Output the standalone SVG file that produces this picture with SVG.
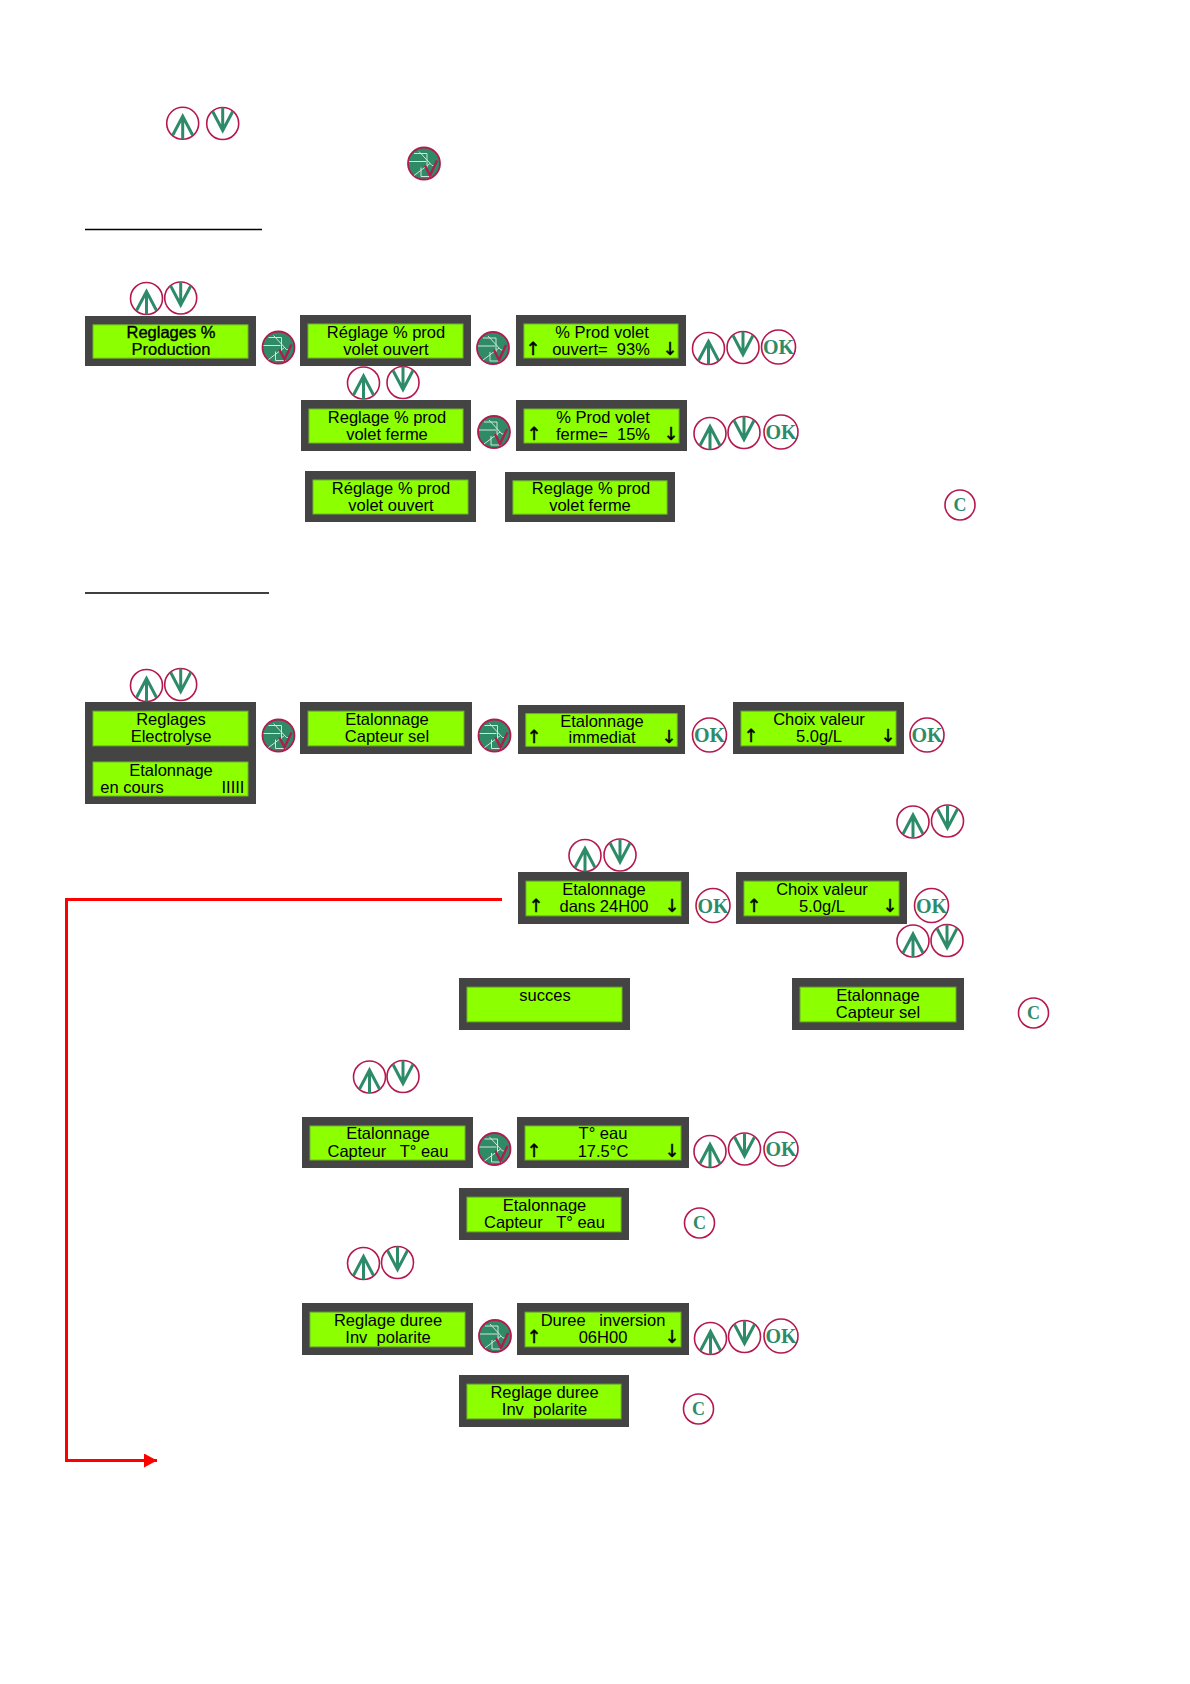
<svg xmlns="http://www.w3.org/2000/svg" width="1190" height="1684" viewBox="0 0 1190 1684">
<style>
.t{font-family:"Liberation Sans",Arial,sans-serif;font-size:16.5px;fill:#000;text-anchor:middle;white-space:pre}
.a{font-family:"DejaVu Sans",sans-serif;font-size:18px;fill:#000;stroke:#000;stroke-width:.4;text-anchor:middle}
.ok{font-family:"Liberation Serif",serif;font-weight:bold;font-size:20px;fill:#2e8b6a;text-anchor:middle}
.c{font-family:"Liberation Serif",serif;font-weight:bold;font-size:18px;fill:#2e8b6a;text-anchor:middle}
.ring{fill:#fff;stroke:#b5184f;stroke-width:1.6}
.ar{fill:none;stroke:#2e8b6a;stroke-width:3}
.rule{stroke:#000;stroke-width:1.3}
.red{fill:none;stroke:#f00;stroke-width:3}
</style>
<defs>
<symbol id="lcd" viewBox="0 0 171 51" preserveAspectRatio="none">
<rect width="171" height="51" fill="#444"/>
<rect x="8" y="9" width="155" height="34" fill="#8cff00" stroke="#6fb52c"/>
</symbol>
<g id="up"><circle r="16" class="ring"/><path class="ar" d="M0 16V-7M-10 12L0-7L10 12"/></g>
<g id="down"><circle r="16" class="ring"/><path class="ar" d="M0-16V7M-10-12L0 7L10-12"/></g>
<g id="sel"><circle r="16" fill="#2f8a66" stroke="#b01c50" stroke-width="1.8"/>
<path d="M-15-2H2M-10-10H3V4M-5-12L8 2H11M-10 12L6 0M-3 4V13H7" fill="none" stroke="#cfe6d9" stroke-width="1"/>
<path d="M1 2L6 12L13-3" fill="none" stroke="#b01c50" stroke-width="2.4"/></g>
<g id="okb"><circle r="17" class="ring"/><text class="ok" y="7">OK</text></g>
<g id="cb"><circle r="15" class="ring"/><text class="c" y="6">C</text></g>
<marker id="head" markerUnits="userSpaceOnUse" markerWidth="13" markerHeight="14" refX="13" refY="7" orient="auto"><path d="M0 0L13 7L0 14Z" fill="#f00"/></marker>
</defs>

<g id="connectors">
<path class="rule" d="M85 229.5H262M85 593H269"/>
<path class="red" d="M502 899.5H66.5V1460.5H157" marker-end="url(#head)"/>
</g>

<g id="buttons">
<use href="#up" x="182.7" y="123.3"/><use href="#down" x="222.7" y="123.5"/><use href="#sel" x="424" y="163.5"/>
<use href="#up" x="146.5" y="298.5"/><use href="#down" x="180.7" y="298"/><use href="#sel" x="278.5" y="347.5"/>
<use href="#sel" x="493" y="348"/><use href="#up" x="708.5" y="348.5"/><use href="#down" x="743" y="347.5"/><use href="#okb" x="778.5" y="347"/>
<use href="#up" x="363.5" y="383"/><use href="#down" x="403" y="382.5"/>
<use href="#sel" x="494" y="432"/><use href="#up" x="710" y="433.5"/><use href="#down" x="744" y="432.5"/><use href="#okb" x="781" y="432"/>
<use href="#cb" x="960" y="505"/>
<use href="#up" x="146.5" y="685.5"/><use href="#down" x="180.7" y="684.5"/><use href="#sel" x="278.5" y="735.5"/><use href="#sel" x="494.5" y="735.5"/>
<use href="#okb" x="709.5" y="735"/><use href="#okb" x="927" y="735"/>
<use href="#up" x="913" y="822"/><use href="#down" x="947.5" y="821"/>
<use href="#up" x="585" y="855.5"/><use href="#down" x="620" y="855"/>
<use href="#okb" x="713" y="905.5"/><use href="#okb" x="931.5" y="905.5"/>
<use href="#up" x="913" y="941"/><use href="#down" x="947" y="940.5"/>
<use href="#cb" x="1033.5" y="1013"/>
<use href="#up" x="369.5" y="1077"/><use href="#down" x="403" y="1076.5"/>
<use href="#sel" x="494.5" y="1149"/><use href="#up" x="710" y="1151.5"/><use href="#down" x="744.5" y="1149"/><use href="#okb" x="781" y="1149"/>
<use href="#cb" x="699.5" y="1223"/>
<use href="#up" x="363.5" y="1263.5"/><use href="#down" x="397.5" y="1262.5"/>
<use href="#sel" x="495" y="1336"/><use href="#up" x="710.5" y="1338.5"/><use href="#down" x="744.5" y="1336.5"/><use href="#okb" x="781" y="1336"/>
<use href="#cb" x="698.5" y="1409"/>
</g>

<g id="lcd1"><use href="#lcd" x="85" y="316" width="171" height="50"/><text class="t" x="171" y="338" stroke="#000" stroke-width=".4">Reglages %</text><text class="t" x="171" y="355" stroke="#000" stroke-width=".2">Production</text></g>
<g id="lcd2"><use href="#lcd" x="300" y="315" width="171" height="51"/><text class="t" x="386" y="338">Réglage % prod</text><text class="t" x="386" y="355">volet ouvert</text></g>
<g id="lcd3"><use href="#lcd" x="516" y="315" width="170" height="51"/><text class="t" x="602" y="338">% Prod volet</text><text class="t" x="601" y="355">ouvert=  93%</text><text class="a" x="533" y="355">↑</text><text class="a" x="670" y="355">↓</text></g>
<g id="lcd4"><use href="#lcd" x="301" y="400" width="170" height="51"/><text class="t" x="387" y="423">Reglage % prod</text><text class="t" x="387" y="440">volet ferme</text></g>
<g id="lcd5"><use href="#lcd" x="516" y="400" width="171" height="51"/><text class="t" x="603" y="423">% Prod volet</text><text class="t" x="603" y="440">ferme=  15%</text><text class="a" x="534" y="440">↑</text><text class="a" x="671" y="440">↓</text></g>
<g id="lcd6"><use href="#lcd" x="305" y="471" width="171" height="51"/><text class="t" x="391" y="494">Réglage % prod</text><text class="t" x="391" y="511">volet ouvert</text></g>
<g id="lcd7"><use href="#lcd" x="505" y="472" width="170" height="50"/><text class="t" x="591" y="494">Reglage % prod</text><text class="t" x="590" y="511">volet ferme</text></g>

<g id="lcd8"><use href="#lcd" x="85" y="702" width="171" height="52"/><text class="t" x="171" y="725">Reglages</text><text class="t" x="171" y="742">Electrolyse</text></g>
<g id="lcd9"><use href="#lcd" x="85" y="753" width="171" height="51"/><text class="t" x="171" y="776">Etalonnage</text><text class="t" x="132" y="793">en cours</text><text class="t" x="233" y="793">IIIII</text></g>
<g id="lcd10"><use href="#lcd" x="300" y="702" width="172" height="52"/><text class="t" x="387" y="725">Etalonnage</text><text class="t" x="387" y="742">Capteur sel</text></g>
<g id="lcd11"><use href="#lcd" x="518" y="705" width="167" height="49"/><text class="t" x="602" y="727">Etalonnage</text><text class="t" x="602" y="743">immediat</text><text class="a" x="534" y="743">↑</text><text class="a" x="669" y="743">↓</text></g>
<g id="lcd12"><use href="#lcd" x="733" y="702" width="171" height="52"/><text class="t" x="819" y="725">Choix valeur</text><text class="t" x="819" y="742">5.0g/L</text><text class="a" x="751" y="742">↑</text><text class="a" x="888" y="742">↓</text></g>
<g id="lcd13"><use href="#lcd" x="518" y="872" width="171" height="52"/><text class="t" x="604" y="895">Etalonnage</text><text class="t" x="604" y="912">dans 24H00</text><text class="a" x="536" y="912">↑</text><text class="a" x="672" y="912">↓</text></g>
<g id="lcd14"><use href="#lcd" x="736" y="872" width="171" height="52"/><text class="t" x="822" y="895">Choix valeur</text><text class="t" x="822" y="912">5.0g/L</text><text class="a" x="754" y="912">↑</text><text class="a" x="890" y="912">↓</text></g>
<g id="lcd15"><use href="#lcd" x="459" y="978" width="171" height="52"/><text class="t" x="545" y="1001">succes</text></g>
<g id="lcd16"><use href="#lcd" x="792" y="978" width="172" height="52"/><text class="t" x="878" y="1001">Etalonnage</text><text class="t" x="878" y="1018">Capteur sel</text></g>
<g id="lcd17"><use href="#lcd" x="302" y="1117" width="171" height="51"/><text class="t" x="388" y="1139">Etalonnage</text><text class="t" x="388" y="1157">Capteur   T° eau</text></g>
<g id="lcd18"><use href="#lcd" x="517" y="1117" width="172" height="51"/><text class="t" x="603" y="1139">T° eau</text><text class="t" x="603" y="1157">17.5°C</text><text class="a" x="534" y="1157">↑</text><text class="a" x="672" y="1157">↓</text></g>
<g id="lcd19"><use href="#lcd" x="459" y="1188" width="170" height="52"/><text class="t" x="544.5" y="1211">Etalonnage</text><text class="t" x="544.5" y="1228">Capteur   T° eau</text></g>
<g id="lcd20"><use href="#lcd" x="302" y="1303" width="171" height="52"/><text class="t" x="388" y="1326">Reglage duree</text><text class="t" x="388" y="1343">Inv  polarite</text></g>
<g id="lcd21"><use href="#lcd" x="517" y="1303" width="172" height="52"/><text class="t" x="603" y="1326">Duree   inversion</text><text class="t" x="603" y="1343">06H00</text><text class="a" x="534" y="1343">↑</text><text class="a" x="672" y="1343">↓</text></g>
<g id="lcd22"><use href="#lcd" x="459" y="1375" width="170" height="52"/><text class="t" x="544.5" y="1398">Reglage duree</text><text class="t" x="544.5" y="1415">Inv  polarite</text></g>
</svg>
